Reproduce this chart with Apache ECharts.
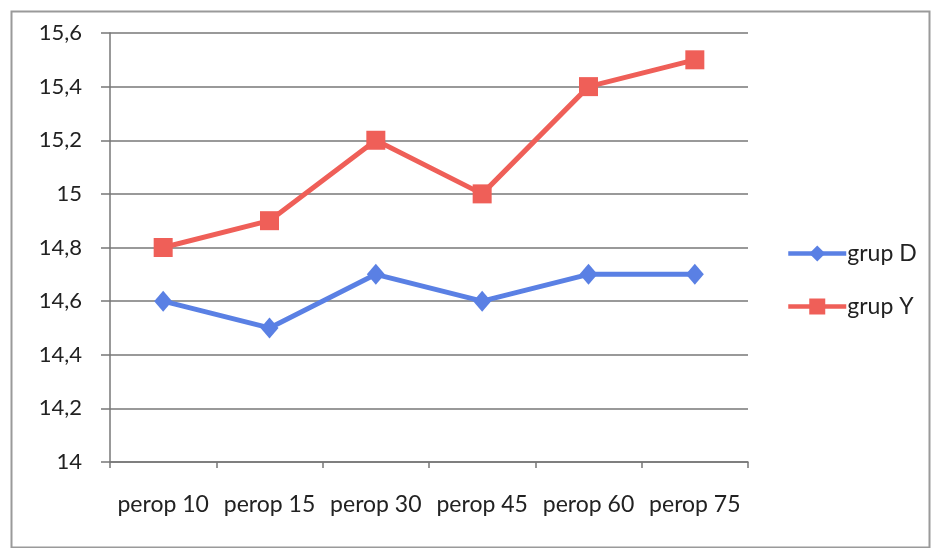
<!DOCTYPE html>
<html>
<head>
<meta charset="utf-8">
<script src="https://cdn.jsdelivr.net/npm/echarts@6/dist/echarts.min.js"></script>
<style>
  html, body { margin: 0; padding: 0; background: #fff; }
  #chart { width: 935px; height: 548px; }
</style>
</head>
<body>
<div id="chart"></div>
<script>
// Category labels along the x axis
const categories = ['perop 10', 'perop 15', 'perop 30', 'perop 45', 'perop 60', 'perop 75'];
// Series values
const grupD = [14.6, 14.5, 14.7, 14.6, 14.7, 14.7];
const grupY = [14.8, 14.9, 15.2, 15.0, 15.4, 15.5];

const FONT = 'Lato, "Open Sans", sans-serif';
const blue = '#5a80e4';
const red = '#ef5f58';
const gridGray = '#777777';

const chart = echarts.init(document.getElementById('chart'));
chart.setOption({
  animation: false,
  backgroundColor: '#fff',
  graphic: [{
    type: 'rect',
    left: 9, top: 9,
    shape: { width: 918, height: 536 },
    style: { fill: 'none', stroke: '#9a9a9a', lineWidth: 2 }
  }],
  grid: { left: 110, right: 187, top: 33, bottom: 86 },
  legend: {
    orient: 'vertical',
    left: 781,
    top: 237,
    itemWidth: 58,
    itemHeight: 20,
    itemGap: 30,
    lineStyle: { width: 4.5 },
    textStyle: { fontFamily: FONT, fontSize: 23, color: '#222', padding: [0, 0, 0, -4] },
    data: ['grup D', 'grup Y']
  },
  xAxis: {
    type: 'category',
    data: categories,
    boundaryGap: true,
    axisLine: { lineStyle: { color: gridGray, width: 1.5 } },
    axisTick: { show: true, interval: 0, length: 6, lineStyle: { color: gridGray, width: 1.5 } },
    axisLabel: { interval: 0, hideOverlap: false, margin: 31, fontFamily: FONT, fontSize: 23, color: '#222' }
  },
  yAxis: {
    type: 'value',
    min: 14,
    max: 15.6,
    interval: 0.2,
    axisLine: { show: true, lineStyle: { color: gridGray, width: 1.5 } },
    axisTick: { show: true, length: 9, lineStyle: { color: gridGray, width: 1.5 } },
    splitLine: { lineStyle: { color: gridGray, width: 1.5 } },
    axisLabel: {
      margin: 28,
      fontFamily: FONT, fontSize: 22, color: '#222',
      formatter: v => String(Number(v.toFixed(1))).replace('.', ',')
    }
  },
  series: [
    {
      name: 'grup D',
      type: 'line',
      data: grupD,
      symbol: 'diamond',
      symbolSize: [18, 21],
      lineStyle: { color: blue, width: 5 },
      itemStyle: { color: blue }
    },
    {
      name: 'grup Y',
      type: 'line',
      data: grupY,
      symbol: 'rect',
      symbolSize: 19,
      lineStyle: { color: red, width: 5 },
      itemStyle: { color: red }
    }
  ]
});
</script>
</body>
</html>
